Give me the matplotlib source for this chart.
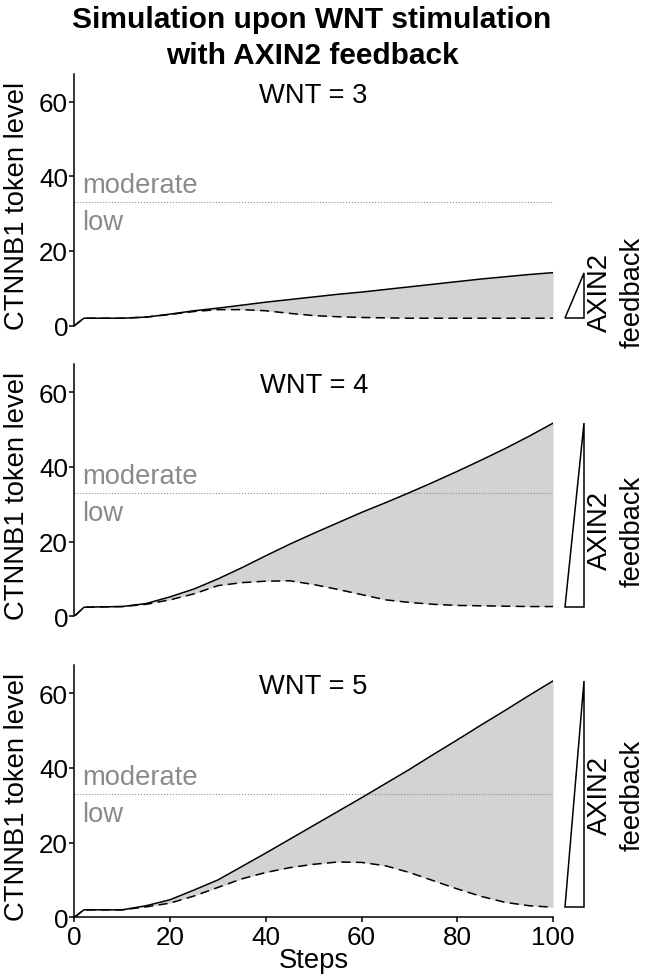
import matplotlib
matplotlib.use('Agg')
import matplotlib.pyplot as plt
from matplotlib.patches import Polygon

plt.rcParams['font.family'] = ['Liberation Sans', 'DejaVu Sans']

# ---------------- data ----------------
steps = [0, 2, 5, 10, 15, 20, 25, 30, 35, 40, 45, 50, 55, 60, 65, 70, 75, 80, 85, 90, 95, 100]

wnt_levels = [3, 4, 5]

# solid line (upper curve) for each WNT level
wnt3_upper = [0, 2.0, 2.0, 2.0, 2.3, 3.1, 4.0, 4.7, 5.5, 6.3, 7.0, 7.7, 8.4, 9.0, 9.7, 10.4, 11.1, 11.8, 12.5, 13.1, 13.7, 14.2]
wnt4_upper = [0, 2.4, 2.5, 2.6, 3.4, 5.2, 7.3, 10.0, 13.0, 16.2, 19.3, 22.2, 25.0, 27.8, 30.4, 33.1, 35.9, 38.8, 41.8, 44.9, 48.2, 51.7]
wnt5_upper = [0, 2.0, 2.0, 2.0, 3.1, 4.7, 7.3, 10.0, 13.6, 17.2, 20.9, 24.6, 28.3, 32.0, 35.8, 39.6, 43.6, 47.5, 51.5, 55.4, 59.4, 63.3]

# dashed line (with AXIN2 feedback) for each WNT level
wnt3_lower = [0, 2.0, 2.0, 2.0, 2.3, 3.0, 3.8, 4.3, 4.3, 4.0, 3.3, 2.7, 2.4, 2.2, 2.1, 2.0, 2.0, 2.0, 2.0, 2.0, 2.0, 2.0]
wnt4_lower = [0, 2.4, 2.5, 2.6, 3.2, 4.4, 6.0, 8.2, 9.0, 9.4, 9.5, 8.5, 7.2, 5.8, 4.4, 3.7, 3.2, 2.9, 2.8, 2.7, 2.6, 2.6]
wnt5_lower = [0, 2.0, 2.0, 2.0, 2.8, 3.8, 5.7, 8.0, 10.3, 12.0, 13.3, 14.2, 14.8, 14.7, 13.8, 12.0, 9.8, 7.6, 5.6, 4.0, 3.1, 2.7]

moderate_threshold = 33
y_ticks = [0, 20, 40, 60]
x_ticks = [0, 20, 40, 60, 80, 100]

uppers = [wnt3_upper, wnt4_upper, wnt5_upper]
lowers = [wnt3_lower, wnt4_lower, wnt5_lower]

# ---------------- layout ----------------
fig = plt.figure(figsize=(6.48, 9.79), dpi=100)
left, width = 0.1147, 0.7387
bottoms = [0.6663, 0.3695, 0.0620]
height = 0.2575
feedback_label_y = [9.1, 23.1, 33.0]

fs_tick = 18.7
fs_text = 19.7

for i in range(3):
    ax = fig.add_axes([left, bottoms[i], width, height])
    up, lo = uppers[i], lowers[i]
    ax.fill_between(steps, up, lo, color='#d3d3d3', lw=0, zorder=1)
    ax.plot(steps, up, color='black', lw=1.1, zorder=3)
    ax.plot(steps, lo, color='black', lw=1.1, dashes=(6, 3.5), zorder=3)
    ax.plot([0, 100], [moderate_threshold, moderate_threshold], color='#8c8c8c',
            lw=0.8, linestyle=(0, (1, 1.6)), zorder=2)

    ax.set_xlim(0, 100)
    ax.set_ylim(0, 67.5)
    ax.set_yticks(y_ticks)
    ax.spines['top'].set_visible(False)
    ax.spines['right'].set_visible(False)
    ax.spines['left'].set_linewidth(1.1)
    ax.tick_params(axis='y', direction='out', length=3.5, width=1.1,
                   labelsize=fs_tick, pad=1)
    if i < 2:
        ax.spines['bottom'].set_visible(False)
        ax.set_xticks([])
    else:
        ax.spines['bottom'].set_linewidth(1.1)
        ax.set_xticks(x_ticks)
        ax.tick_params(axis='x', direction='out', length=3.5, width=1.1,
                       labelsize=fs_tick, pad=2.3)
        ax.set_xlabel('Steps', fontsize=fs_text, labelpad=-2)

    ax.text(50, 60, f'WNT = {wnt_levels[i]}', ha='center', va='baseline',
            fontsize=fs_text)
    ax.text(1.6, 35.7, 'moderate', ha='left', va='baseline', fontsize=fs_text,
            color='#8a8a8a')
    ax.text(1.6, 25.9, 'low', ha='left', va='baseline', fontsize=fs_text,
            color='#8a8a8a')
    ax.text(-0.1197, 0.48, 'CTNNB1 token level', rotation=90, ha='center',
            va='center', transform=ax.transAxes, fontsize=fs_text)

    tri = Polygon([(102.5, lo[-1]), (106.5, lo[-1]), (106.5, up[-1])],
                  closed=True, facecolor='white', edgecolor='black', lw=1.1,
                  clip_on=False, zorder=4)
    ax.add_patch(tri)
    ax.text(109.9, feedback_label_y[i], 'AXIN2', rotation=90, ha='center',
            va='center', fontsize=fs_text, clip_on=False)
    ax.text(116.6, feedback_label_y[i], 'feedback', rotation=90, ha='center',
            va='center', fontsize=fs_text, clip_on=False)

fig.text(0.4815, 1 - 28 / 979, 'Simulation upon WNT stimulation', ha='center',
         va='baseline', fontsize=21.5, fontweight='bold')
fig.text(0.4815, 1 - 64 / 979, 'with AXIN2 feedback', ha='center',
         va='baseline', fontsize=21.5, fontweight='bold')

fig.savefig('out.png', dpi=100)
